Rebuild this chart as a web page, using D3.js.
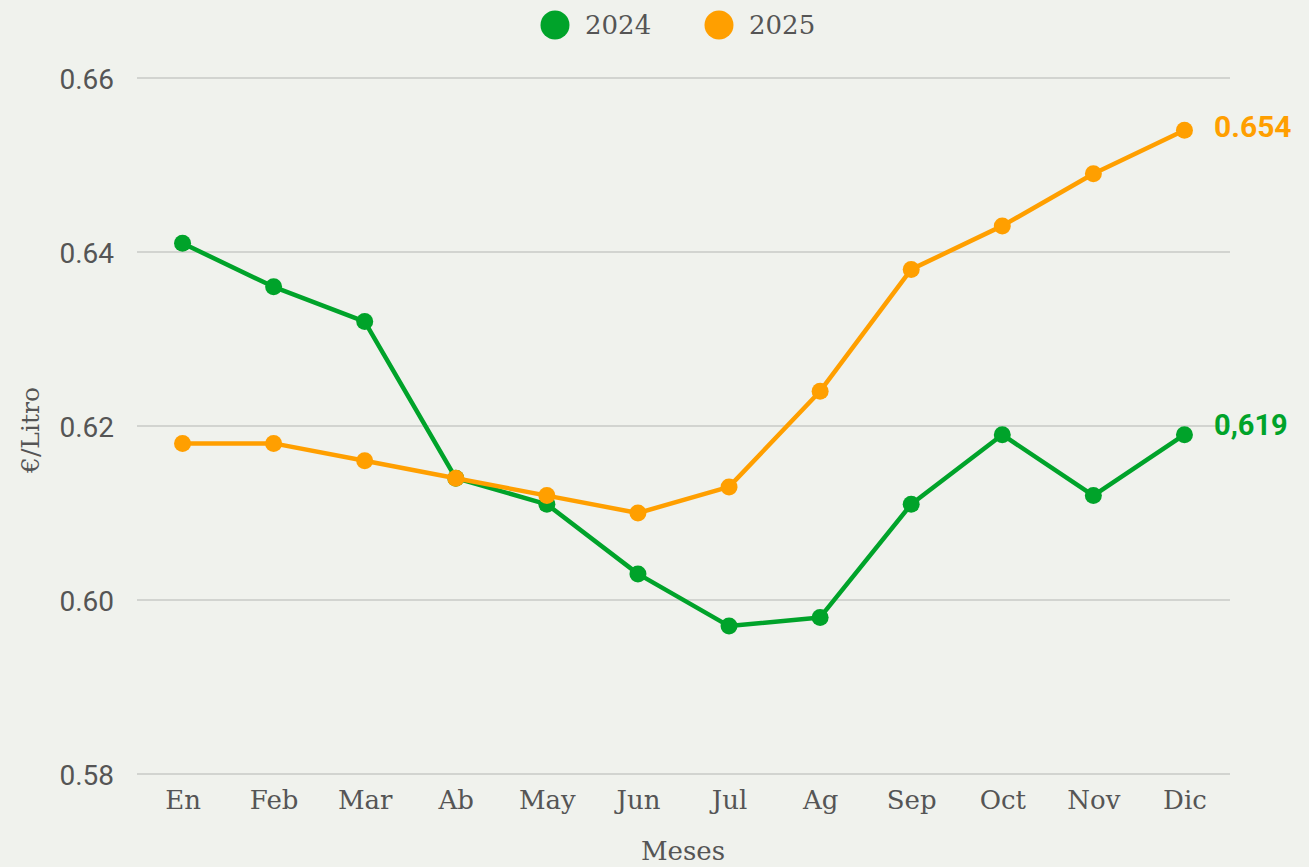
<!DOCTYPE html>
<html>
<head>
<meta charset="utf-8">
<script src="https://cdn.jsdelivr.net/npm/d3@7"></script>
<style>
  body { margin: 0; background: #f0f2ed; }
  svg { display: block; }
</style>
</head>
<body>
<div id="chart"></div>
<script>
// datos
var meses = ["En", "Feb", "Mar", "Ab", "May", "Jun", "Jul", "Ag", "Sep", "Oct", "Nov", "Dic"];
var anios = ["2024", "2025"];
var valores2024 = [0.641, 0.636, 0.632, 0.614, 0.611, 0.603, 0.597, 0.598, 0.611, 0.619, 0.612, 0.619];
var valores2025 = [0.618, 0.618, 0.616, 0.614, 0.612, 0.610, 0.613, 0.624, 0.638, 0.643, 0.649, 0.654];
var ticksY = [0.58, 0.60, 0.62, 0.64, 0.66];
var etiquetasFin = ["0,619", "0.654"];

var W = 1309, H = 867;
var colores = ["#00a32a", "#ff9f00"];
var SLAB = "'Roboto Slab', 'DejaVu Serif', serif";
var SANS = "Roboto, 'Open Sans', sans-serif";

var svg = d3.select("#chart").append("svg").attr("width", W).attr("height", H);
svg.append("rect").attr("width", W).attr("height", H).attr("fill", "#f0f2ed");

var x = d3.scalePoint().domain(meses).range([137, 1230]).padding(0.5);
var y = d3.scaleLinear().domain([0.58, 0.66]).range([774, 78]);

// rejilla
var grid = svg.append("g");
grid.selectAll("line").data(ticksY).enter().append("line")
  .attr("x1", 137).attr("x2", 1230)
  .attr("y1", function(d){ return y(d); })
  .attr("y2", function(d){ return y(d); })
  .attr("stroke", "#c9cac6").attr("stroke-width", 1.5);

// eje y
var yAxis = svg.append("g").attr("transform", "translate(114,0)")
  .call(d3.axisLeft(y).tickValues(ticksY).tickFormat(d3.format(".2f")).tickSize(0));
yAxis.select(".domain").remove();
yAxis.selectAll("text")
  .attr("font-family", SANS).attr("font-size", "28px").attr("fill", "#555")
  .attr("x", 0).attr("dy", "0.36em");

// eje x
var xAxis = svg.append("g").attr("transform", "translate(0,774)")
  .call(d3.axisBottom(x).tickSize(0));
xAxis.select(".domain").remove();
xAxis.selectAll("text")
  .attr("font-family", SLAB).attr("font-size", "26px").attr("fill", "#555")
  .attr("y", 17);

svg.append("text").attr("x", 683).attr("y", 860).attr("text-anchor", "middle")
  .attr("font-family", SLAB).attr("font-size", "26px").attr("fill", "#555")
  .text("Meses");
svg.append("text").attr("transform", "translate(39,430) rotate(-90)").attr("text-anchor", "middle")
  .attr("font-family", SLAB).attr("font-size", "25px").attr("fill", "#555")
  .text("€/Litro");

// series
var series = [valores2024, valores2025];
var linea = d3.line().x(function(d, i){ return x(meses[i]); }).y(function(d){ return y(d); });
var ajusteY = [-10, -4];

series.forEach(function(vals, s){
  var g = svg.append("g");
  g.append("path").datum(vals).attr("d", linea)
    .attr("fill", "none").attr("stroke", colores[s]).attr("stroke-width", 4.5)
    .attr("stroke-linejoin", "round");
  g.selectAll("circle").data(vals).enter().append("circle")
    .attr("cx", function(d, i){ return x(meses[i]); })
    .attr("cy", function(d){ return y(d); })
    .attr("r", 8.5).attr("fill", colores[s]);
  var last = vals[vals.length - 1];
  g.append("text").attr("x", 1214).attr("y", y(last) + ajusteY[s]).attr("dy", "0.35em")
    .attr("font-family", SANS).attr("font-weight", "bold")
    .attr("font-size", s === 0 ? "29px" : "30px").attr("fill", colores[s])
    .text(etiquetasFin[s]);
});

// leyenda
var leyX = [555, 719];
var ley = svg.append("g");
anios.forEach(function(a, i){
  ley.append("circle").attr("cx", leyX[i]).attr("cy", 25).attr("r", 14.5).attr("fill", colores[i]);
  ley.append("text").attr("x", leyX[i] + 30).attr("y", 25).attr("dy", "0.35em")
    .attr("font-family", SLAB).attr("font-size", "26px").attr("fill", "#555").text(a);
});
</script>
</body>
</html>
